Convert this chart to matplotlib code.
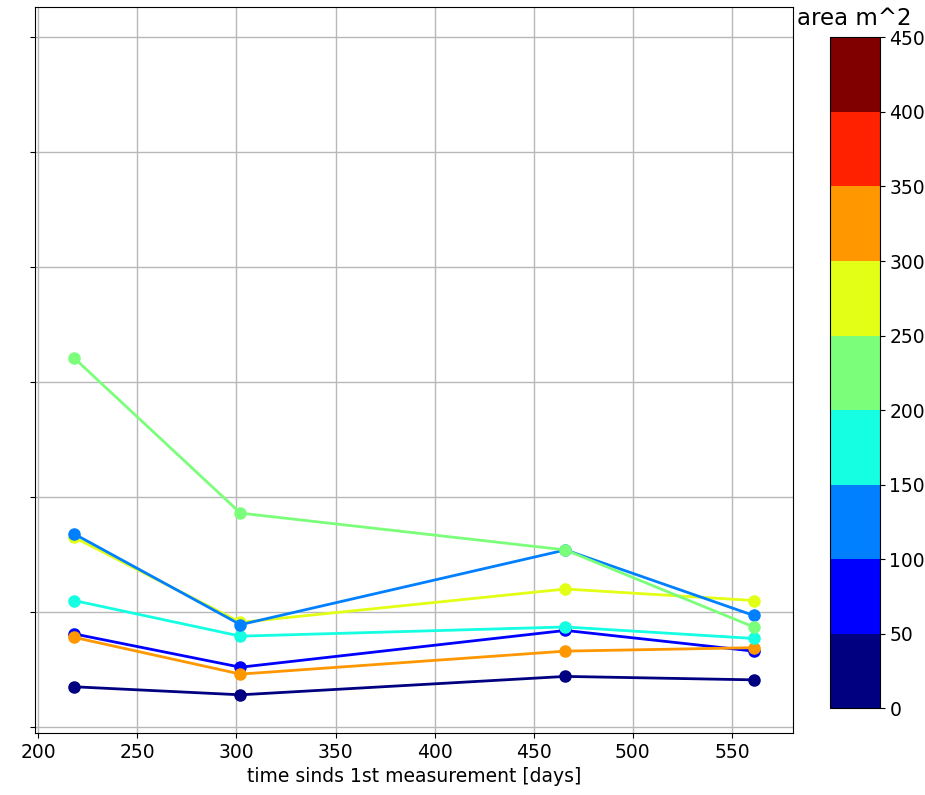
import matplotlib
matplotlib.use('Agg')
from matplotlib import pyplot as plt
from matplotlib.colors import BoundaryNorm
from matplotlib.cm import ScalarMappable
import numpy as np

# days since first measurement
days = [218, 302, 466, 561]

# one series per plot, coloured by its area (m^2)
areas = [30, 80, 320, 180, 280, 130, 230]
series = [
    [0.35, 0.28, 0.44, 0.41],
    [0.81, 0.52, 0.84, 0.66],
    [0.78, 0.46, 0.66, 0.69],
    [1.10, 0.79, 0.87, 0.77],
    [1.65, 0.91, 1.20, 1.10],
    [1.68, 0.89, 1.54, 0.97],
    [3.21, 1.86, 1.54, 0.87],
]

bounds = np.arange(0, 451, 50)
cmap = plt.get_cmap('jet', len(bounds) - 1)
norm = BoundaryNorm(bounds, cmap.N)

fig = plt.figure(figsize=(9.25, 7.95), dpi=100)
ax = fig.add_axes([0.0378, 0.078, 0.819, 0.913])

for area, vals in zip(areas, series):
    c = cmap(norm(area))
    ax.plot(days, vals, '-o', color=c, linewidth=2, markersize=8)

ax.set_xlim(198.3, 580.6)
ax.set_ylim(-0.052, 6.26)
ax.set_xticks(np.arange(200, 551, 50))
ax.set_yticks(np.arange(0, 7, 1))
ax.set_yticklabels([])
ax.tick_params(labelsize=13.5)
ax.grid(True, color='#b8b8b8', linewidth=1)
ax.set_xlabel('time sinds 1st measurement [days]', fontsize=13.5)

cax = fig.add_axes([0.897, 0.109, 0.054, 0.844])
sm = ScalarMappable(norm=norm, cmap=cmap)
cbar = fig.colorbar(sm, cax=cax, ticks=bounds)
cbar.ax.tick_params(labelsize=13.5)
cbar.ax.set_title('area m^2', fontsize=16.5, pad=9)

fig.savefig('out.png', dpi=100)
